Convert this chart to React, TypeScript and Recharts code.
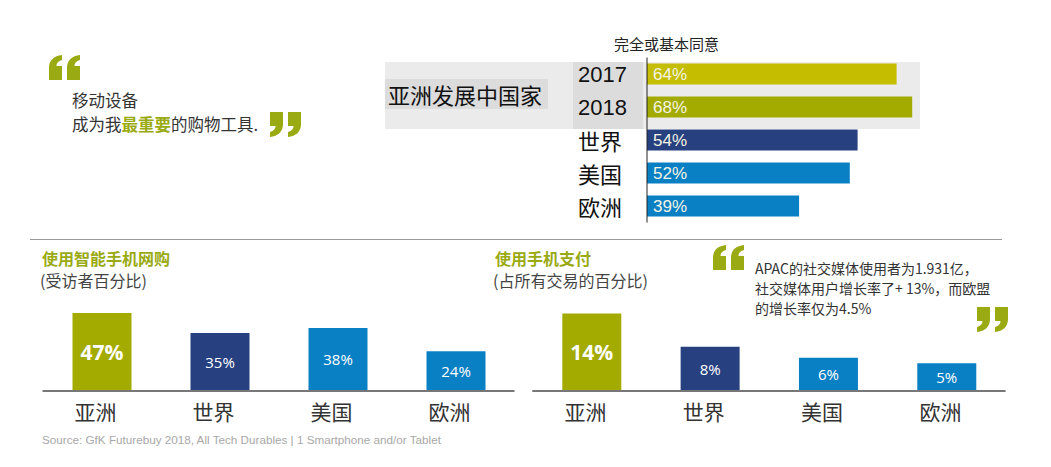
import { Bar, BarChart, Cell, LabelList, XAxis, YAxis } from "recharts"

// top chart: agree completely / somewhat
const agreeCats = ["2017", "2018", "世界", "美国", "欧洲"]
const agreeValues = [64, 68, 54, 52, 39]
const agreeColors = ["#c4bd00", "#a4ab00", "#27407f", "#0a80c4", "#0a80c4"]

// bottom charts
const regions = ["亚洲", "世界", "美国", "欧洲"]
const shopValues = [47, 35, 38, 24]
const payValues = [14, 8, 6, 5]
const regionColors = ["#a3ab00", "#27407f", "#0a80c4", "#0a80c4"]

const GREEN = "#9aaa12"
const CJK = "'Noto Sans CJK SC', 'Liberation Sans', sans-serif"
const ARIAL = "'Liberation Sans', 'Noto Sans CJK SC', sans-serif"

const agreeData = agreeCats.map((name, i) => ({ name, value: agreeValues[i] }))
const shopData = regions.map((name, i) => ({ name, value: shopValues[i] }))
const payData = regions.map((name, i) => ({ name, value: payValues[i] }))

const pct = (v: any) => `${v}%`

const AgreeTick = (props: any) => {
  const { y, payload } = props
  const isYear = /^\d+$/.test(payload.value)
  return (
    <text
      x={18}
      y={y}
      textAnchor="start"
      dominantBaseline="central"
      fontSize={22}
      fill="#111"
      fontFamily={isYear ? ARIAL : CJK}
    >
      {payload.value}
    </text>
  )
}

const RegionTick = (props: any) => {
  const { x, y, payload } = props
  return (
    <text x={x - 6} y={y + 12} textAnchor="middle" dominantBaseline="central" fontSize={21} fill="#333" fontFamily={CJK}>
      {payload.value}
    </text>
  )
}

const BigLabel = (props: any) => {
  const { x, y, width, height, value, index } = props
  const first = index === 0
  return (
    <text
      x={x + width / 2}
      y={y + height / 2}
      textAnchor="middle"
      dominantBaseline="central"
      fill="#fff"
      fontSize={first ? 21 : 15}
      fontWeight={first ? 700 : 400}
      fontFamily="'Open Sans', sans-serif"
    >
      {value}%
    </text>
  )
}

function RegionChart({ data, max, left, width, margin }: { data: any[]; max: number; left: number; width: number; margin: any }) {
  return (
    <div style={{ position: "absolute", left, top: 290 }}>
      <BarChart width={width} height={141} data={data} margin={margin}>
        <XAxis
          dataKey="name"
          interval={0}
          tickLine={false}
          axisLine={{ stroke: "#777", strokeWidth: 2 }}
          tick={<RegionTick />}
          height={40}
        />
        <YAxis hide domain={[0, max]} />
        <Bar dataKey="value" barSize={59} isAnimationActive={false}>
          {data.map((d, i) => (
            <Cell key={d.name} fill={regionColors[i]} />
          ))}
          <LabelList dataKey="value" content={<BigLabel />} />
        </Bar>
      </BarChart>
    </div>
  )
}

const abs = (left: number, top: number, extra: any = {}) => ({
  position: "absolute" as const,
  left,
  top,
  whiteSpace: "nowrap" as const,
  ...extra,
})

// one "6" shaped quote blob, 13 wide x 25 tall
const blob = "M0 25 L0 13 C0 5 5 1 13 0 L13 5 C9 6 7.5 8.5 7.5 11 L13 11 L13 25 Z"

const Quote = ({ left, top, close }: { left: number; top: number; close?: boolean }) => (
  <svg style={{ position: "absolute", left, top }} width={32} height={25} viewBox="0 0 32 25">
    <g transform={close ? "rotate(180 16 12.5)" : undefined} fill={GREEN}>
      <path d={blob} />
      <path d={blob} transform="translate(18 0)" />
    </g>
  </svg>
)

export default function App() {
  return (
    <div style={{ position: "absolute", left: 0, top: 0, width: 1051, height: 467, background: "#fff", overflow: "hidden", fontFamily: CJK }}>
      {/* top-left quote */}
      <Quote left={49} top={55} />
      <div style={abs(72, 89, { fontSize: 16.5, lineHeight: "22px", color: "#333" })}>移动设备</div>
      <div style={abs(72, 113, { fontSize: 16.5, lineHeight: "22px", color: "#333" })}>
        成为我<span style={{ color: GREEN, fontWeight: 700 }}>最重要</span>的购物工具.
      </div>
      <Quote left={269} top={112} close />

      {/* top chart backgrounds */}
      <div style={abs(385, 62, { width: 535, height: 67, background: "#ebebeb" })} />
      <div style={abs(385, 79, { width: 163, height: 30, background: "#dcdcdc" })} />
      <div style={abs(573, 62, { width: 70, height: 67, background: "#dcdcdc" })} />
      <div style={abs(388, 79, { fontSize: 22, lineHeight: "30px", color: "#111" })}>亚洲发展中国家</div>
      <div style={abs(614, 34, { fontSize: 15, lineHeight: "20px", color: "#222" })}>完全或基本同意</div>

      <div style={{ position: "absolute", left: 560, top: 40 }}>
        <BarChart width={477} height={200} layout="vertical" data={agreeData} margin={{ top: 17.5, right: 0, bottom: 17.5, left: 0 }}>
          <XAxis type="number" hide domain={[0, 100]} />
          <YAxis
            type="category"
            dataKey="name"
            width={87}
            tickLine={false}
            axisLine={{ stroke: "#222", strokeWidth: 1 }}
            tick={<AgreeTick />}
            interval={0}
          />
          <Bar dataKey="value" barSize={21} isAnimationActive={false}>
            {agreeData.map((d, i) => (
              <Cell key={d.name} fill={agreeColors[i]} />
            ))}
            <LabelList
              dataKey="value"
              position="insideLeft"
              offset={6}
              formatter={pct}
              fill="#f4f4e4"
              fontSize={17}
              fontFamily={ARIAL}
            />
          </Bar>
        </BarChart>
      </div>

      {/* separator */}
      <div style={abs(30, 239, { width: 972, height: 1, background: "#9a9a9a" })} />

      {/* bottom left */}
      <div style={abs(42, 247, { fontSize: 16, lineHeight: "22px", color: GREEN, fontWeight: 700 })}>使用智能手机网购</div>
      <div style={abs(40, 269, { fontSize: 16, lineHeight: "22px", color: "#444" })}>(受访者百分比)</div>
      <RegionChart data={shopData} max={50} left={0} width={530} margin={{ top: 18, right: 15.5, bottom: 0, left: 42.5 }} />

      {/* bottom right */}
      <div style={abs(495, 247, { fontSize: 16, lineHeight: "22px", color: GREEN, fontWeight: 700 })}>使用手机支付</div>
      <div style={abs(493, 269, { fontSize: 16, lineHeight: "22px", color: "#444" })}>(占所有交易的百分比)</div>
      <RegionChart data={payData} max={15} left={520} width={500} margin={{ top: 18, right: 14.4, bottom: 0, left: 12.3 }} />

      {/* right quote */}
      <Quote left={713} top={245} />
      <div style={abs(755, 258, { fontSize: 14, lineHeight: "20px", color: "#333" })}>
        APAC的社交媒体使用者为1.931亿，
        <br />
        社交媒体用户增长率了+ 13%，而欧盟
        <br />
        的增长率仅为4.5%
      </div>
      <Quote left={976} top={307} close />

      <div style={abs(42, 433, { fontSize: 11.7, lineHeight: "14px", color: "#a8a8a8", fontFamily: ARIAL })}>
        Source: GfK Futurebuy 2018, All Tech Durables | 1 Smartphone and/or Tablet
      </div>
    </div>
  )
}
